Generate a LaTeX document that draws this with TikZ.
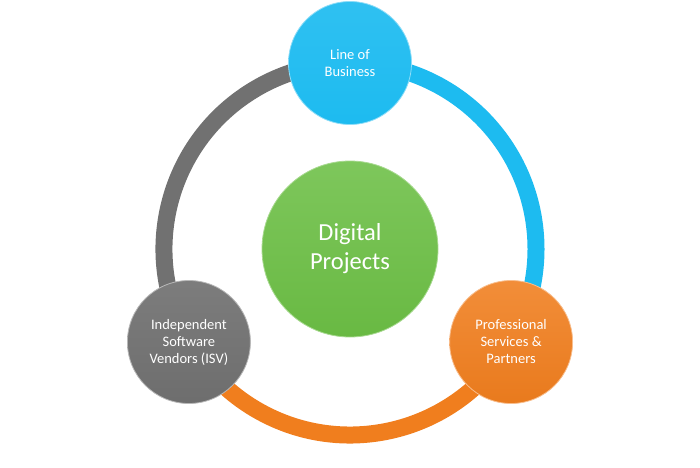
\documentclass[tikz,border=0pt]{standalone}
\usepackage{fontspec}
\setmainfont{Carlito}
\usetikzlibrary{positioning,calc}
\pgfdeclarelayer{bg}
\pgfsetlayers{bg,main}
\definecolor{lobblue}{HTML}{1DBBF0}
\definecolor{psorange}{HTML}{F07E1E}
\definecolor{isvgray}{HTML}{717171}
\definecolor{dpgreen}{HTML}{6CBF45}

\begin{document}
\begin{tikzpicture}[x = 1pt, y = 1pt,
  hub/.style = {circle, minimum size = 176pt, inner sep = 0pt, align = center,
    text = white, font = \fontsize{24.5}{29}\selectfont},
  spoke/.style = {circle, minimum size = 123pt, inner sep = 0pt, align = center,
    text = white, font = \fontsize{14.5}{17}\selectfont},
  band/.style = {line width = 17pt}]
\useasboundingbox (0,0) rectangle (700,467);
\node[hub, top color = dpgreen!88!white, bottom color = dpgreen!97!black,
  draw = dpgreen!60!white, line width = .8pt] (dp) at (350,218) {Digital\\Projects};
\node[spoke, top color = lobblue!92!white, bottom color = lobblue,
  draw = lobblue!50!white, line width = .8pt] (lob) at (350,404) {Line of\\Business};
\node[spoke, top color = psorange!88!white, bottom color = psorange!97!black,
  draw = psorange!50!white, line width = .8pt] (ps) at (511.1,125) {Professional\\Services \&\\Partners};
\node[spoke, top color = isvgray!92!white, bottom color = isvgray!97!black,
  draw = isvgray!50!white, line width = .8pt] (isv) at (188.9,125) {Independent\\Software\\Vendors (ISV)};
\begin{pgfonlayer}{bg}
\draw[band, lobblue] (lob.center) arc[start angle = 90, end angle = -30, radius = 186];
\draw[band, psorange] (ps.center) arc[start angle = -30, end angle = -150, radius = 186];
\draw[band, isvgray] (isv.center) arc[start angle = 210, end angle = 90, radius = 186];
\end{pgfonlayer}
\end{tikzpicture}
\end{document}
